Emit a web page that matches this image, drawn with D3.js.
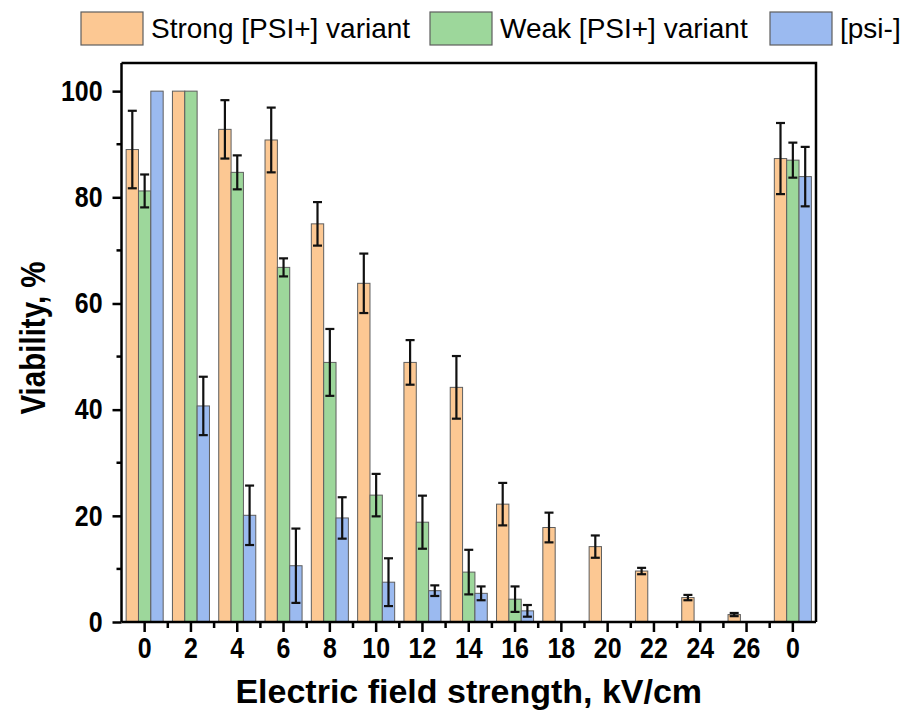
<!DOCTYPE html>
<html>
<head>
<meta charset="utf-8">
<script src="https://cdn.jsdelivr.net/npm/d3@7"></script>
<style>
  html, body { margin: 0; padding: 0; background: #fff; }
  svg { display: block; }
  text { font-family: "Liberation Sans", Arial, sans-serif; fill: #000; }
</style>
</head>
<body>
<svg id="chart" width="909" height="711"></svg>
<script>
// ---- data ----
const categories = ["0", "2", "4", "6", "8", "10", "12", "14", "16", "18", "20", "22", "24", "26", "0"];
const seriesNames = ["Strong [PSI+] variant", "Weak [PSI+] variant", "[psi-]"];
const strongVals = [89.0, 100, 92.8, 90.8, 75.0, 63.8, 48.9, 44.2, 22.2, 17.8, 14.2, 9.6, 4.6, 1.4, 87.3];
const strongErr  = [7.3, 0, 5.5, 6.1, 4.1, 5.6, 4.2, 5.9, 4.0, 2.8, 2.1, 0.6, 0.5, 0.3, 6.7];
const weakVals   = [81.2, 100, 84.7, 66.8, 48.9, 23.9, 18.8, 9.4, 4.3, null, null, null, null, null, 87.0];
const weakErr    = [3.1, 0, 3.2, 1.7, 6.3, 4.0, 5.0, 4.2, 2.4, null, null, null, null, null, 3.3];
const psiVals    = [100, 40.7, 20.1, 10.6, 19.6, 7.5, 5.9, 5.4, 2.1, null, null, null, null, null, 83.9];
const psiErr     = [0, 5.5, 5.6, 7.0, 3.9, 4.5, 1.0, 1.3, 1.1, null, null, null, null, null, 5.6];
const yTicks = [0, 20, 40, 60, 80, 100];
const yMinorTicks = [10, 30, 50, 70, 90];
const colors = ["#fcc893", "#9dd79b", "#9bbaf0"];

const seriesVals = [strongVals, weakVals, psiVals];
const seriesErr = [strongErr, weakErr, psiErr];

// ---- layout ----
const pLeft = 121.5, pRight = 816, pTop = 63, pBottom = 622;
const svg = d3.select("#chart");

const idx = categories.map((d, i) => i);
const x0 = d3.scaleBand().domain(idx).range([pLeft, pRight]).paddingInner(0).paddingOuter(0);
const groupW = x0.bandwidth() * 0.8;
const x1 = d3.scaleBand().domain([0, 1, 2]).range([-groupW / 2, groupW / 2]).padding(0);
const y = d3.scaleLinear().domain([0, 105.3]).range([pBottom, pTop]);

// data records
const records = [];
seriesVals.forEach((vals, s) => {
  vals.forEach((v, i) => {
    if (v !== null && v !== undefined) records.push({ s, i, v, e: seriesErr[s][i] });
  });
});

// bars
svg.append("g").selectAll("rect").data(records).join("rect")
  .attr("x", d => x0(d.i) + x0.bandwidth() / 2 + x1(d.s))
  .attr("y", d => y(d.v))
  .attr("width", x1.bandwidth())
  .attr("height", d => y(0) - y(d.v))
  .attr("fill", d => colors[d.s])
  .attr("stroke", "#5e5e5e")
  .attr("stroke-width", 1);

// error bars
const capW = 9;
const eg = svg.append("g").attr("stroke", "#111").attr("stroke-width", 2.2);
records.filter(d => d.e > 0).forEach(d => {
  const cx = x0(d.i) + x0.bandwidth() / 2 + x1(d.s) + x1.bandwidth() / 2;
  const yt = y(d.v + d.e), yb = y(Math.max(0, d.v - d.e));
  eg.append("line").attr("x1", cx).attr("x2", cx).attr("y1", yt).attr("y2", yb);
  eg.append("line").attr("x1", cx - capW / 2).attr("x2", cx + capW / 2).attr("y1", yt).attr("y2", yt);
  eg.append("line").attr("x1", cx - capW / 2).attr("x2", cx + capW / 2).attr("y1", yb).attr("y2", yb);
});

// frame (top & right)
svg.append("path")
  .attr("d", `M${pLeft},${pTop}H${pRight}V${pBottom}`)
  .attr("fill", "none").attr("stroke", "#000").attr("stroke-width", 2.5);

const squeeze = 0.86;
// y axis
const yAxis = svg.append("g").attr("transform", `translate(${pLeft},0)`)
  .call(d3.axisLeft(y).tickValues(yTicks).tickSize(9).tickPadding(10).tickFormat(d3.format("d")));
yAxis.select(".domain").attr("d", `M0,${pBottom}V${pTop}`).attr("stroke-width", 2.5);
yAxis.selectAll(".tick line").attr("stroke-width", 2.5);
yAxis.selectAll(".tick text").attr("font-size", 29).attr("font-weight", "bold")
  .attr("x", -19 / squeeze)
  .attr("transform", `scale(${squeeze},1)`)
  .style("font-family", "'Liberation Sans', Arial, sans-serif");
svg.append("g").selectAll("line").data(yMinorTicks).join("line")
  .attr("x1", pLeft).attr("x2", pLeft - 5).attr("y1", d => y(d)).attr("y2", d => y(d))
  .attr("stroke", "#000").attr("stroke-width", 2.5);

// x axis
const xAxis = svg.append("g").attr("transform", `translate(0,${pBottom})`)
  .call(d3.axisBottom(x0).tickSize(10).tickPadding(5).tickFormat(i => categories[i]));
xAxis.select(".domain").attr("d", `M${pLeft},0H${pRight}`).attr("stroke-width", 2.5);
xAxis.selectAll(".tick line").attr("stroke-width", 2.5);
xAxis.selectAll(".tick text").attr("font-size", 29).attr("font-weight", "bold")
  .attr("transform", `scale(${squeeze},1)`)
  .style("font-family", "'Liberation Sans', Arial, sans-serif");
// minor ticks at band boundaries
const boundaries = idx.slice(1).map(i => x0(i));
svg.append("g").selectAll("line").data(boundaries).join("line")
  .attr("x1", d => d).attr("x2", d => d).attr("y1", pBottom).attr("y2", pBottom + 6)
  .attr("stroke", "#000").attr("stroke-width", 2.5);

// axis titles
svg.append("text")
  .attr("x", (pLeft + pRight) / 2).attr("y", 703)
  .attr("text-anchor", "middle").attr("font-size", 34).attr("font-weight", "bold")
  .text("Electric field strength, kV/cm");
svg.append("text")
  .attr("transform", `translate(45,338) rotate(-90) scale(0.82,1)`)
  .attr("text-anchor", "middle").attr("font-size", 36).attr("font-weight", "bold")
  .text("Viability, %");

// legend
const legendPos = [
  { bx: 81, tx: 151 },
  { bx: 430, tx: 500 },
  { bx: 770, tx: 840 }
];
const lg = svg.append("g");
seriesNames.forEach((name, s) => {
  lg.append("rect").attr("x", legendPos[s].bx).attr("y", 12).attr("width", 62).attr("height", 33)
    .attr("fill", colors[s]).attr("stroke", "#5e5e5e").attr("stroke-width", 1.2);
  lg.append("text").attr("x", legendPos[s].tx).attr("y", 38)
    .attr("font-size", 28).text(name);
});
</script>
</body>
</html>
